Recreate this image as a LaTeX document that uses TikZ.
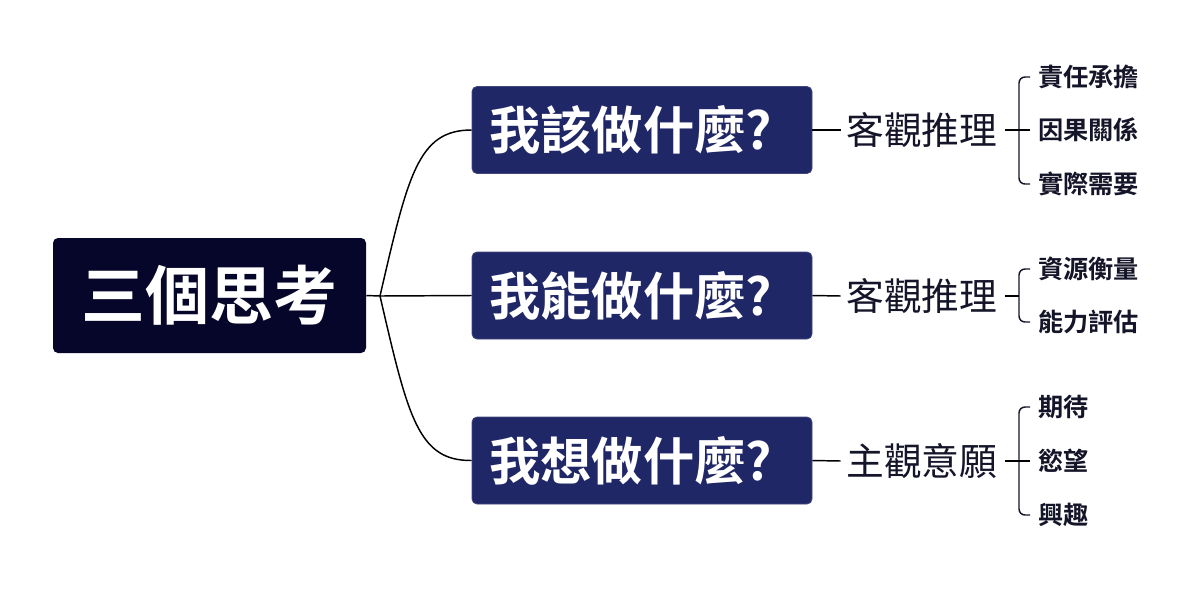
\documentclass[tikz,border=0pt]{standalone}
\usepackage{fontspec}
\newfontfamily\cjk{Noto Sans CJK TC}[BoldFont={Noto Sans CJK TC Bold}]
\definecolor{rootc}{HTML}{06062A}
\definecolor{qc}{HTML}{202766}
\definecolor{labc}{HTML}{15152A}
\begin{document}
\begin{tikzpicture}[x=0.75pt,y=-0.75pt,
 rootbox/.style={fill=rootc, rounded corners=3.75pt, minimum width=234.75pt, minimum height=86.25pt, text=white, font=\cjk\bfseries\fontsize{48}{52}\selectfont, inner sep=0pt},
 qbox/.style={fill=qc, draw=qc!85!white, line width=0.6pt, rounded corners=3.75pt, minimum width=255pt, minimum height=65.25pt, text=white, font=\cjk\bfseries\fontsize{38.5}{42}\selectfont, inner sep=0pt},
 lab/.style={font=\cjk\fontsize{28.3}{30}\selectfont, text=labc, inner sep=0pt, anchor=west},
 leaf/.style={font=\cjk\bfseries\fontsize{18.9}{20}\selectfont, text=labc, inner sep=0pt, anchor=west},
 conn/.style={draw=black, line width=1.1pt},
 brace/.style={draw=labc, line width=1.1pt, rounded corners=4.5pt}]
\useasboundingbox (0,0) rectangle (1200,601);
% root and questions
\node[rootbox] (root) at (209.5,295.5) {三個思考};
\coordinate (j) at (380,296);
\node[qbox] (q1) at (642,130) {我該做什麼?\hspace*{17pt}};
\node[qbox] (q2) at (642,295.5) {我能做什麼?\hspace*{17pt}};
\node[qbox] (q3) at (642,460.5) {我想做什麼?\hspace*{17pt}};
\draw[conn] (root.east) -- (j);
\draw[conn] (j) .. controls (408,175) and (418,130) .. (q1.west);
\draw[conn] (j) -- (q2.west);
\draw[conn] (j) .. controls (408,417) and (418,461) .. (q3.west);
% labels
\node[lab] (a1) at (846,130) {客觀推理};
\node[lab] (a2) at (846,296) {客觀推理};
\node[lab] (a3) at (846,461) {主觀意願};
\draw[conn] (q1.east) -- ([xshift=-4pt]a1.west);
\draw[conn] (q2.east) -- ([xshift=-4pt]a2.west);
\draw[conn] (q3.east) -- ([xshift=-4pt]a3.west);
% leaves group 1
\node[leaf] (l11) at (1038,77) {責任承擔};
\node[leaf] (l12) at (1038,130) {因果關係};
\node[leaf] (l13) at (1038,184) {實際需要};
\coordinate (b1) at (1019,130);
\draw[brace] ([xshift=-6pt]l11.west) -| (b1) |- ([xshift=-6pt]l13.west);
\draw[conn] ([xshift=6pt]a1.east) -- ([xshift=-6pt]l12.west);
% leaves group 2
\node[leaf] (l21) at (1038,269) {資源衡量};
\node[leaf] (l22) at (1038,322) {能力評估};
\coordinate (b2) at (1019,296);
\draw[brace] ([xshift=-6pt]l21.west) -| (b2) |- ([xshift=-6pt]l22.west);
\draw[conn] ([xshift=6pt]a2.east) -- (b2);
% leaves group 3
\node[leaf] (l31) at (1038,407) {期待};
\node[leaf] (l32) at (1038,461) {慾望};
\node[leaf] (l33) at (1038,515) {興趣};
\coordinate (b3) at (1019,461);
\draw[brace] ([xshift=-6pt]l31.west) -| (b3) |- ([xshift=-6pt]l33.west);
\draw[conn] ([xshift=6pt]a3.east) -- ([xshift=-6pt]l32.west);
\end{tikzpicture}
\end{document}
